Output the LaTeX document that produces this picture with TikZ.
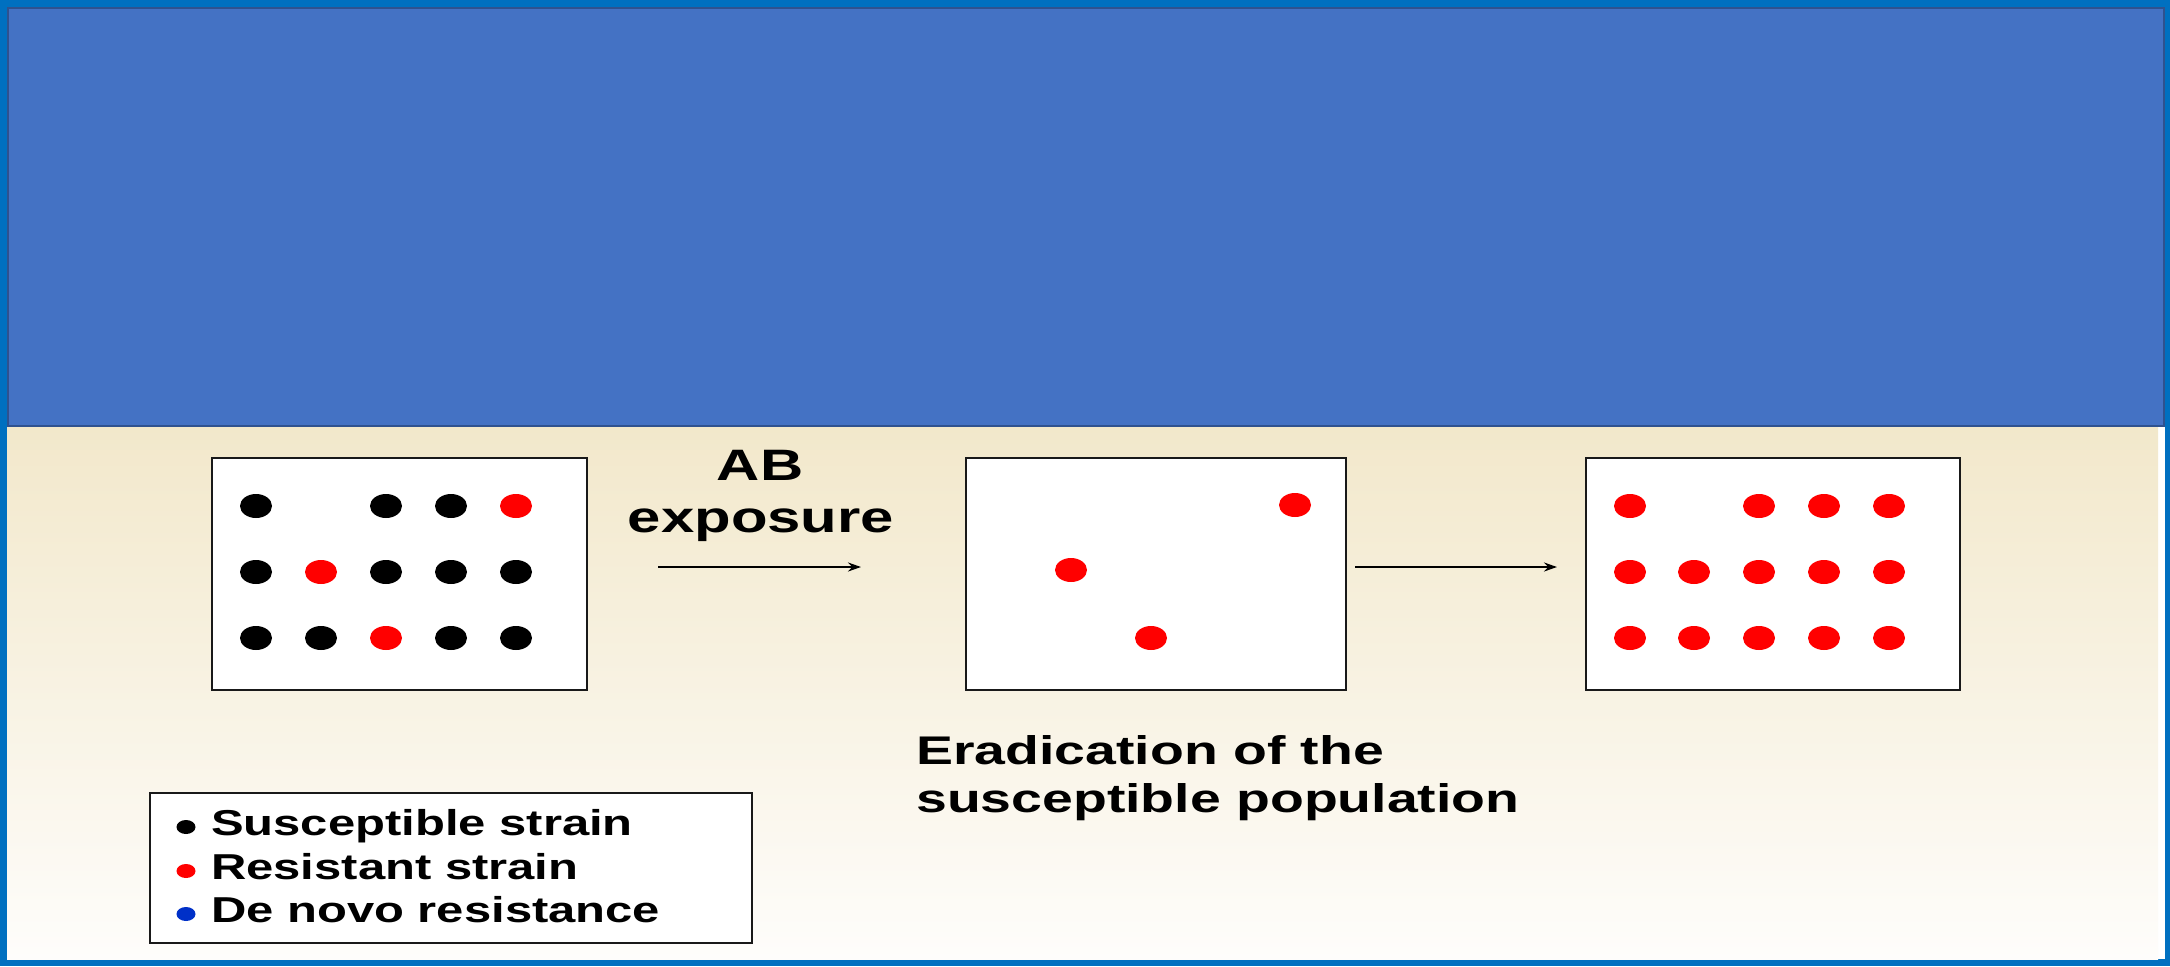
\documentclass[tikz,border=0pt]{standalone}
\usepackage{fontspec}
\setmainfont{Liberation Sans}
\usetikzlibrary{shapes.geometric,arrows.meta}
\definecolor{frameblue}{HTML}{0070C0}
\definecolor{headblue}{HTML}{4472C4}
\definecolor{headline}{HTML}{2F528F}
\definecolor{beige}{HTML}{F2E8CB}
\definecolor{paper}{HTML}{FEFDFB}
\definecolor{resred}{HTML}{FF0000}
\definecolor{novoblue}{HTML}{0030C8}
\newcommand\sx[1]{\scalebox{1.36}[1]{#1}}
\newcommand\sxw[1]{\scalebox{1.385}[1]{#1}}
\tikzset{
  popbox/.style={draw=black!90, line width=2pt, fill=white, inner sep=0pt, outer sep=0pt},
  dot/.style={ellipse, inner sep=0pt, minimum width=32pt, minimum height=24pt},
  sus/.style={dot, fill=black},
  res/.style={dot, fill=resred},
  ldot/.style={ellipse, inner sep=0pt, minimum width=19pt, minimum height=14pt},
  flow/.style={line width=2.5pt, -{Stealth[length=13pt,width=9pt]}},
  bigtxt/.style={inner sep=0pt, font=\fontsize{44}{52}\selectfont\bfseries},
  midtxt/.style={inner sep=0pt, font=\fontsize{40}{48}\selectfont\bfseries},
  legtxt/.style={inner sep=0pt, font=\fontsize{36}{44}\selectfont\bfseries},
}
\begin{document}
\begin{tikzpicture}[x=1pt,y=-1pt]
\useasboundingbox (0,0) rectangle (2170,966);
% outer frame and background
\fill[frameblue] (0,0) rectangle (2170,966);
\fill[white] (7,7) rectangle (2165,959);
\shade[top color=beige, bottom color=paper] (7,427) rectangle (2158,959);
% header
\draw[headline, line width=2pt, fill=headblue] (8,8) rectangle (2164,426);
% population boxes
\node[popbox, minimum width=375pt, minimum height=232pt] (b1) at (399.5,574) {};
\node[popbox, minimum width=380pt, minimum height=232pt] (b2) at (1156,574) {};
\node[popbox, minimum width=374pt, minimum height=232pt] (b3) at (1773,574) {};
% box 1 dots
\node[sus] (d11) at (256,506) {};
\node[sus] (d13) at (386,506) {};
\node[sus] (d14) at (451,506) {};
\node[res] (d15) at (516,506) {};
\node[sus] (d21) at (256,572) {};
\node[res] (d22) at (321,572) {};
\node[sus] (d23) at (386,572) {};
\node[sus] (d24) at (451,572) {};
\node[sus] (d25) at (516,572) {};
\node[sus] (d31) at (256,638) {};
\node[sus] (d32) at (321,638) {};
\node[res] (d33) at (386,638) {};
\node[sus] (d34) at (451,638) {};
\node[sus] (d35) at (516,638) {};
% box 2 dots
\node[res] (e1) at (1295,505) {};
\node[res] (e2) at (1071,570) {};
\node[res] (e3) at (1151,638) {};
% box 3 dots
\node[res] (f11) at (1630,506) {};
\node[res] (f13) at (1759,506) {};
\node[res] (f14) at (1824,506) {};
\node[res] (f15) at (1889,506) {};
\foreach \c/\xx in {1/1630,2/1694,3/1759,4/1824,5/1889}{
  \node[res] (f2\c) at (\xx,572) {};
  \node[res] (f3\c) at (\xx,638) {};
}
% arrows
\coordinate (a1s) at (658,567);
\coordinate (a1e) at (861,567);
\coordinate (a2s) at (1355,567);
\coordinate (a2e) at (1557,567);
\draw[flow] (a1s) -- (a1e);
\draw[flow] (a2s) -- (a2e);
% labels
\node[bigtxt, anchor=base] (ab1) at (760,480) {\sx{AB}};
\node[bigtxt, anchor=base] (ab2) at (761,532) {\sx{exposure}};
\node[midtxt, anchor=base west] (er1) at (916,764) {\sxw{Eradication of the}};
\node[midtxt, anchor=base west] (er2) at (916,812) {\sxw{susceptible population}};
% legend
\node[popbox, minimum width=602pt, minimum height=150pt] (leg) at (451,867.5) {};
\node[ldot, fill=black] (l1) at (186,827) {};
\node[ldot, fill=resred] (l2) at (186,871) {};
\node[ldot, fill=novoblue] (l3) at (186,914) {};
\node[legtxt, anchor=base west] (t1) at (211,835) {\sx{Susceptible strain}};
\node[legtxt, anchor=base west] (t2) at (211,879) {\sx{Resistant strain}};
\node[legtxt, anchor=base west] (t3) at (211,922) {\sx{De novo resistance}};
\end{tikzpicture}
\end{document}
